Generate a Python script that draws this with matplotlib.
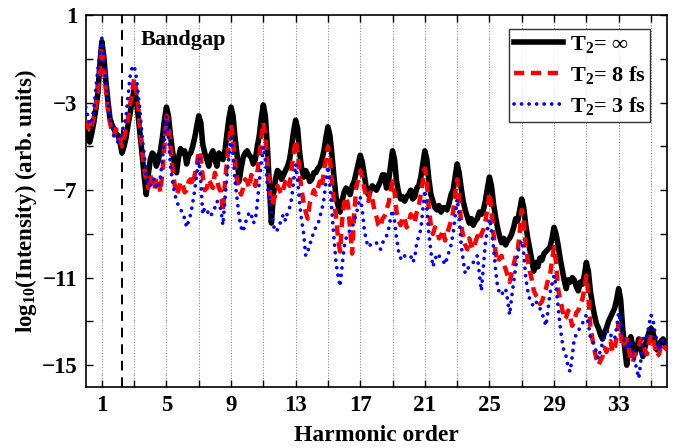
import numpy as np
import matplotlib
matplotlib.use("Agg")
import matplotlib.pyplot as plt

plt.rcParams['font.family'] = ['Liberation Serif', 'DejaVu Serif']
plt.rcParams['font.weight'] = 'bold'
plt.rcParams['mathtext.fontset'] = 'custom'
plt.rcParams['mathtext.rm'] = 'Liberation Serif:bold'
plt.rcParams['mathtext.it'] = 'Liberation Serif:bold'
plt.rcParams['mathtext.bf'] = 'Liberation Serif:bold'
plt.rcParams['mathtext.default'] = 'rm'

# harmonic order grid, 8 samples per harmonic
order = np.arange(0, 36.001, 0.125)

# log10 spectra, one row per harmonic order
t2_inf = [
    -4.3, -4.6, -4.8, -4.4, -3.9, -3.3, -2.6, -1.3,
    -0.2, -0.9, -2.0, -2.9, -3.7, -4.0, -4.2, -4.4,
    -4.5, -4.8, -5.3, -5.0, -4.6, -4.0, -3.5, -2.9,
    -2.4, -2.8, -3.6, -4.5, -5.4, -6.4, -7.2, -6.3,
    -5.6, -5.3, -5.4, -5.9, -5.6, -5.2, -4.6, -3.8,
    -3.2, -3.6, -4.5, -5.2, -5.8, -6.2, -5.5, -5.1,
    -5.3, -5.2, -5.8, -5.4, -5.3, -5.0, -4.6, -4.1,
    -3.6, -3.9, -4.9, -5.3, -5.6, -5.9, -5.4, -5.2,
    -5.6, -5.9, -5.3, -5.5, -5.6, -5.2, -4.4, -3.7,
    -3.2, -3.6, -4.6, -5.4, -6.6, -6.0, -5.5, -5.3,
    -5.2, -5.4, -5.5, -5.8, -5.6, -5.0, -4.5, -3.7,
    -3.1, -3.6, -5.0, -6.8, -8.5, -7.2, -6.5, -6.1,
    -6.2, -6.5, -6.3, -6.1, -5.9, -5.6, -5.0, -4.3,
    -3.8, -4.2, -5.3, -6.0, -6.4, -6.1, -6.3, -6.6,
    -6.5, -6.2, -6.2, -6.0, -5.9, -5.6, -5.2, -4.6,
    -4.1, -4.5, -5.4, -6.4, -7.3, -7.7, -8.0, -7.5,
    -7.1, -6.9, -7.0, -7.2, -6.8, -6.6, -6.2, -5.8,
    -5.4, -5.7, -6.3, -6.9, -7.2, -7.0, -6.8, -6.9,
    -7.0, -6.8, -6.6, -6.3, -6.3, -6.9, -6.6, -5.9,
    -5.2, -5.6, -6.6, -7.1, -7.4, -7.3, -7.5, -7.3,
    -7.2, -7.0, -7.4, -7.3, -6.9, -6.8, -6.4, -5.8,
    -5.2, -5.6, -6.5, -7.2, -7.5, -7.8, -7.9, -7.7,
    -8.0, -7.8, -7.8, -7.9, -7.6, -7.2, -7.0, -6.4,
    -5.8, -6.2, -6.9, -7.5, -7.9, -8.2, -8.5, -8.3,
    -8.6, -8.4, -8.3, -8.0, -8.1, -7.9, -7.5, -6.9,
    -6.4, -6.8, -7.6, -8.2, -8.7, -9.1, -9.4, -9.2,
    -9.5, -9.3, -9.2, -9.0, -8.7, -8.3, -8.4, -7.9,
    -7.4, -7.8, -8.6, -9.2, -9.7, -10.2, -10.7, -10.3,
    -10.5, -10.1, -10.2, -9.9, -9.8, -9.7, -9.6, -9.2,
    -8.7, -9.0, -9.5, -10.1, -10.6, -11.1, -11.5, -11.1,
    -11.2, -11.0, -11.1, -11.4, -11.6, -11.2, -11.3, -10.9,
    -10.3, -10.7, -11.6, -12.2, -12.7, -13.1, -13.3, -13.6,
    -13.8, -13.5, -13.3, -13.0, -12.8, -12.6, -12.4, -12.0,
    -11.5, -12.0, -13.3, -14.2, -15.0, -14.3, -13.7, -14.1,
    -14.5, -14.2, -13.8, -14.2, -14.6, -14.2, -13.8, -13.5,
    -13.3, -13.5, -13.9, -14.3, -14.2, -13.9, -13.8, -14.0,
    -14.2,
]

t2_8fs = [
    -3.8, -4.1, -4.3, -4.0, -3.7, -3.2, -2.5, -1.4,
    -0.45, -1.2, -2.4, -3.3, -3.9, -4.3, -4.5, -4.2,
    -4.4, -4.7, -5.0, -4.6, -4.2, -3.7, -3.1, -2.5,
    -1.9, -2.4, -3.2, -4.3, -5.2, -6.0, -6.6, -6.9,
    -6.3, -6.7, -7.0, -6.4, -6.5, -7.1, -6.2, -5.0,
    -3.6, -4.1, -5.0, -6.0, -6.7, -7.2, -7.0, -6.6,
    -6.7, -7.1, -7.0, -6.6, -6.5, -6.8, -6.3, -5.9,
    -5.2, -5.5, -6.4, -7.0, -6.9, -6.5, -6.7, -6.9,
    -6.2, -6.5, -6.9, -7.1, -8.0, -6.6, -5.7, -4.8,
    -4.0, -4.6, -5.9, -6.6, -7.0, -7.2, -6.9, -6.5,
    -6.6, -6.9, -6.3, -6.5, -6.8, -6.2, -5.5, -4.6,
    -3.9, -4.5, -5.8, -6.9, -7.7, -7.5, -7.2, -6.8,
    -7.0, -7.2, -6.9, -6.6, -6.5, -6.8, -6.0, -5.3,
    -4.7, -5.2, -6.3, -7.0, -7.6, -8.0, -8.3, -7.6,
    -7.3, -7.0, -7.2, -6.9, -6.6, -6.9, -6.1, -5.6,
    -5.0, -5.6, -6.6, -7.5, -8.2, -9.2, -9.8, -8.4,
    -7.6, -7.3, -7.7, -8.8, -9.9, -8.1, -6.9, -6.5,
    -6.1, -6.4, -6.9, -7.3, -7.5, -7.1, -7.4, -7.9,
    -8.2, -8.6, -8.7, -8.3, -8.2, -7.9, -7.6, -7.1,
    -6.6, -7.1, -8.0, -8.4, -8.6, -8.2, -8.3, -8.7,
    -8.5, -8.1, -8.2, -8.5, -8.0, -7.7, -7.2, -6.6,
    -6.0, -6.6, -7.9, -8.6, -9.0, -8.7, -8.8, -9.2,
    -9.1, -8.8, -9.3, -9.0, -8.7, -8.4, -8.0, -7.2,
    -6.5, -7.2, -8.6, -9.1, -9.5, -9.7, -9.2, -9.5,
    -9.7, -9.4, -9.1, -9.3, -9.0, -8.8, -8.4, -7.8,
    -7.1, -7.8, -9.0, -9.8, -10.3, -10.1, -10.0, -10.4,
    -10.6, -10.9, -11.2, -10.8, -10.4, -10.0, -9.8, -8.9,
    -7.9, -8.4, -9.6, -10.2, -10.7, -11.1, -11.6, -11.8,
    -11.9, -12.2, -12.1, -11.8, -11.5, -11.1, -10.9, -10.2,
    -9.6, -10.3, -11.5, -12.0, -12.4, -12.9, -12.8, -12.5,
    -12.8, -13.2, -13.0, -12.6, -12.5, -12.2, -12.0, -11.5,
    -10.9, -11.8, -13.2, -13.8, -14.3, -14.7, -15.0, -14.8,
    -14.6, -14.2, -14.4, -14.0, -13.9, -14.4, -14.3, -13.7,
    -13.1, -13.6, -14.2, -14.0, -13.8, -14.3, -14.7, -14.9,
    -14.5, -14.2, -14.1, -13.8, -13.9, -14.3, -14.5, -14.0,
    -13.6, -13.8, -14.2, -14.6, -14.5, -14.1, -14.0, -14.2,
    -14.3,
]

t2_3fs = [
    -3.2, -3.6, -4.0, -3.8, -3.3, -2.4, -1.5, -0.7,
    -0.05, -0.8, -2.0, -3.0, -3.7, -4.1, -4.5, -4.7,
    -4.8, -4.6, -4.3, -4.0, -3.6, -2.7, -1.8, -1.4,
    -1.3, -1.8, -2.6, -3.5, -4.6, -5.4, -6.4, -6.8,
    -6.8, -6.5, -6.5, -6.9, -6.9, -6.4, -5.6, -4.6,
    -3.6, -4.5, -5.9, -6.6, -7.1, -7.5, -7.7, -7.9,
    -8.0, -8.3, -8.7, -8.4, -8.1, -7.6, -7.0, -6.3,
    -5.5, -6.6, -8.1, -7.8, -7.9, -8.1, -8.2, -7.9,
    -7.8, -7.5, -7.6, -7.9, -8.6, -7.4, -6.3, -5.4,
    -4.6, -5.4, -6.6, -7.4, -8.2, -8.7, -8.9, -8.5,
    -8.3, -8.0, -8.1, -8.5, -8.4, -7.6, -6.6, -5.8,
    -5.0, -5.6, -6.8, -7.4, -8.0, -8.6, -8.9, -8.8,
    -8.6, -8.3, -8.1, -8.4, -8.0, -7.8, -7.4, -6.6,
    -5.8, -6.5, -7.6, -8.4, -9.0, -10.0, -9.8, -9.5,
    -9.2, -8.9, -8.7, -8.6, -8.2, -7.9, -7.4, -6.6,
    -5.9, -6.8, -8.0, -9.2, -10.3, -10.9, -11.4, -10.5,
    -9.6, -9.2, -9.0, -8.8, -8.7, -8.4, -8.1, -7.7,
    -7.3, -7.9, -8.8, -9.3, -9.6, -9.5, -9.5, -9.4,
    -9.4, -9.6, -9.7, -9.4, -9.3, -9.1, -8.8, -8.3,
    -7.9, -8.4, -9.2, -9.8, -10.1, -10.2, -10.0, -10.0,
    -10.0, -10.0, -10.3, -10.1, -9.4, -9.1, -8.8, -7.9,
    -7.0, -7.8, -9.0, -9.8, -10.5, -10.2, -9.9, -10.0,
    -10.1, -10.2, -10.4, -10.1, -9.8, -9.5, -9.0, -8.2,
    -7.4, -8.2, -9.5, -10.2, -10.8, -10.6, -10.5, -10.4,
    -10.3, -10.1, -10.0, -10.8, -11.6, -10.5, -9.4, -8.8,
    -8.3, -8.8, -9.6, -10.6, -11.4, -11.7, -11.8, -11.6,
    -11.5, -12.0, -12.7, -11.9, -11.2, -10.5, -9.9, -9.5,
    -9.3, -9.9, -11.0, -11.6, -12.0, -12.2, -12.3, -12.1,
    -12.2, -12.4, -12.6, -12.9, -13.2, -12.5, -11.7, -11.3,
    -10.9, -11.4, -12.3, -13.2, -13.9, -14.4, -14.6, -15.1,
    -15.3, -14.6, -13.8, -13.6, -13.4, -13.3, -13.1, -12.9,
    -12.7, -13.1, -13.7, -13.9, -14.1, -14.4, -14.7, -14.3,
    -14.0, -13.7, -13.5, -13.4, -13.6, -13.8, -13.8, -13.3,
    -12.6, -13.0, -13.6, -14.0, -14.3, -14.1, -13.9, -14.3,
    -14.8, -15.2, -15.6, -14.8, -13.9, -13.6, -13.7, -13.2,
    -12.7, -12.9, -13.5, -13.9, -14.3, -14.0, -13.8, -13.9,
    -14.0,
]

bandgap = 2.27
odd_orders = np.arange(1, 36, 2)
xticks = np.arange(1, 34, 4)
yticks = [1, -3, -7, -11, -15]

fig = plt.figure(figsize=(6.8, 4.48), dpi=100)
ax = fig.add_axes([0.126, 0.136, 0.855, 0.830])

for h in odd_orders:
    ax.axvline(h, color='#888888', lw=0.8, ls=(0, (1, 1.5)), zorder=1)
ax.axvline(bandgap, color='black', lw=1.4, ls=(0, (5, 3.5)), zorder=1)

ax.plot(order, t2_inf, color='black', lw=4.0, label='T$_2$= ∞', zorder=2)
ax.plot(order, t2_8fs, color='red', lw=3.2, dashes=(2.3, 1.5),
        label='T$_2$= 8 fs', zorder=3)
ax.plot(order, t2_3fs, color='blue', lw=2.7, dashes=(0.01, 2.0),
        dash_capstyle='round', label='T$_2$= 3 fs', zorder=4)

ax.text(3.4, -0.15, 'Bandgap', fontsize=16, fontweight='bold',
        ha='left', va='center')

ax.set_xlim(0, 36)
ax.set_ylim(-16, 1)
ax.set_xticks(xticks)
ax.set_xticks(odd_orders, minor=True)
ax.set_yticks(yticks)
ax.set_yticks([-1, -5, -9, -13], minor=True)
ax.tick_params(which='both', direction='in', top=True, right=True,
               labelsize=16.5, width=1.0, length=5, pad=6)
for s in ax.spines.values():
    s.set_linewidth(1.2)

ax.set_xlabel('Harmonic order', fontsize=17, fontweight='bold', labelpad=6)
ax.set_ylabel('log$_{10}$(Intensity) (arb. units)', fontsize=16.5,
              fontweight='bold', labelpad=2)

leg = ax.legend(loc='upper right', bbox_to_anchor=(0.971, 0.962),
                borderaxespad=0, fontsize=16, frameon=True, fancybox=False,
                edgecolor='black', handlelength=2.2, handletextpad=0.3,
                labelspacing=0.4, borderpad=0.22)
leg.get_frame().set_linewidth(1.0)

fig.savefig('out.png', dpi=100)
